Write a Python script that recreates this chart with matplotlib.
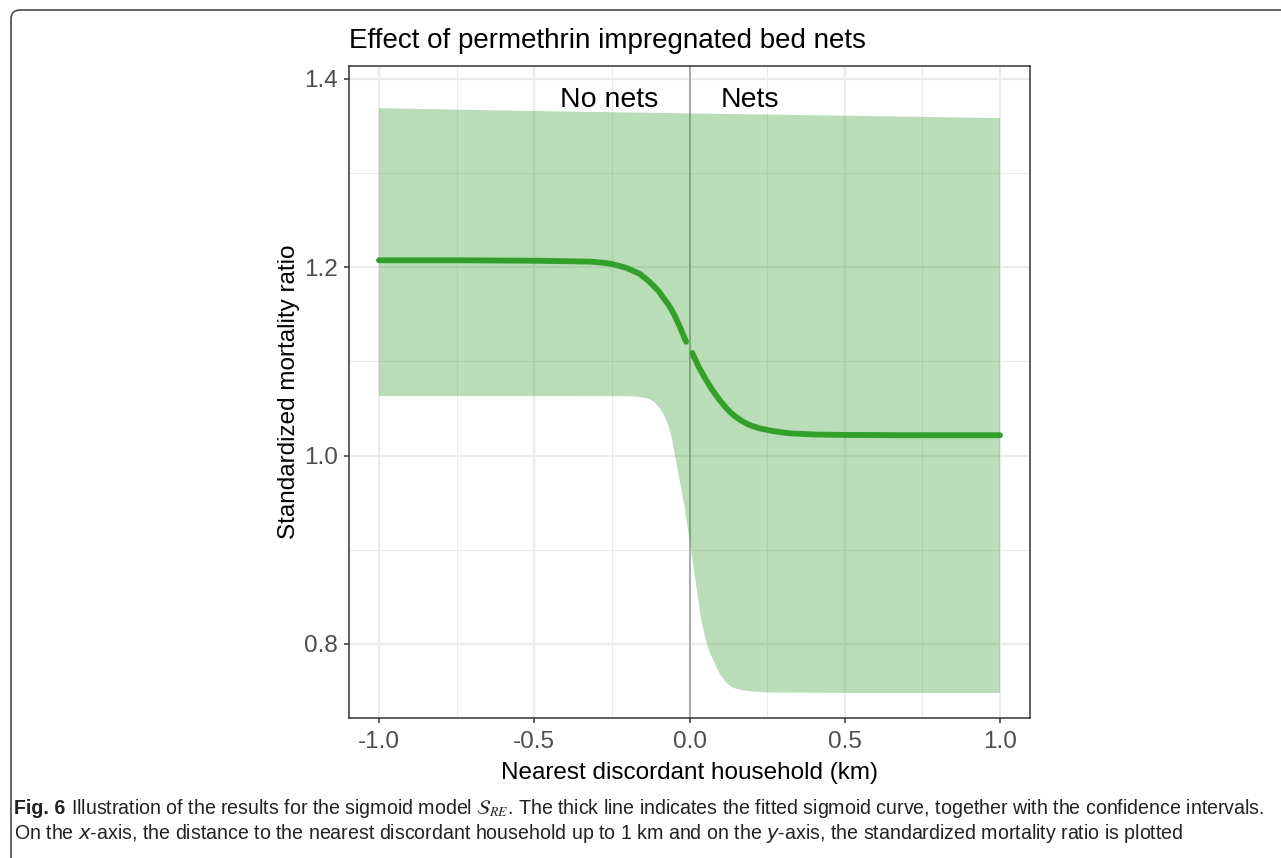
import numpy as np
import matplotlib
matplotlib.use("Agg")
import matplotlib.pyplot as plt
from matplotlib.patches import FancyBboxPatch
from matplotlib.transforms import IdentityTransform

# fitted sigmoid, drawn in two pieces (no nets / nets)
curve_left_x = [-1.0, -0.75, -0.5, -0.4, -0.32, -0.28, -0.25, -0.22, -0.2, -0.18,
                -0.16, -0.145, -0.13, -0.115, -0.1, -0.085, -0.065, -0.048, -0.03, -0.011]
curve_left_y = [1.2075, 1.2075, 1.207, 1.2065, 1.206, 1.205, 1.2035, 1.201, 1.199, 1.196,
                1.193, 1.189, 1.185, 1.180, 1.175, 1.168, 1.159, 1.149, 1.136, 1.121]
curve_right_x = [0.009, 0.03, 0.054, 0.075, 0.097, 0.12, 0.135, 0.15, 0.17, 0.19, 0.225,
                 0.27, 0.322, 0.4, 0.5, 0.7, 1.0]
curve_right_y = [1.109, 1.094, 1.080, 1.069, 1.059, 1.050, 1.045, 1.041, 1.0365, 1.033, 1.029,
                 1.026, 1.0237, 1.0225, 1.022, 1.0217, 1.0217]

# confidence band
band_lower_x = [-1.0, -0.5, -0.2, -0.17, -0.15, -0.13, -0.115, -0.1, -0.085, -0.075,
                -0.065, -0.056, -0.048, -0.032, -0.016, -0.005, 0.005, 0.022, 0.038,
                0.046, 0.053, 0.059, 0.065, 0.072, 0.079, 0.086, 0.1, 0.118, 0.135,
                0.15, 0.18, 0.25, 0.5, 1.0]
band_lower_y = [1.0633, 1.0633, 1.0632, 1.0627, 1.0618, 1.060, 1.0575, 1.052, 1.045, 1.038,
                1.029, 1.017, 1.0024, 0.974, 0.946, 0.921, 0.900, 0.861, 0.825,
                0.813, 0.804, 0.797, 0.791, 0.786, 0.781, 0.776, 0.767, 0.759, 0.7545,
                0.7525, 0.7503, 0.7485, 0.748, 0.748]
band_upper_x = [-1.0, -0.5, 0.0, 0.5, 1.0]
band_upper_y = [1.369, 1.366, 1.3635, 1.361, 1.3585]

x_ticks = [-1.0, -0.5, 0.0, 0.5, 1.0]
x_tick_labels = ['-1.0', '-0.5', '0.0', '0.5', '1.0']
y_ticks = [0.8, 1.0, 1.2, 1.4]
y_tick_labels = ['0.8', '1.0', '1.2', '1.4']

caption_1 = (r'Illustration of the results for the sigmoid model $\mathcal{S}_{RE}$. '
             'The thick line indicates the fitted sigmoid curve, together with the confidence intervals.')
caption_2 = (r'On the $x$-axis, the distance to the nearest discordant household up to 1 km '
             r'and on the $y$-axis, the standardized mortality ratio is plotted')

plt.rcParams['font.family'] = ['Liberation Sans', 'DejaVu Sans']
plt.rcParams['mathtext.rm'] = 'Liberation Sans Narrow'
plt.rcParams['mathtext.it'] = 'Liberation Sans Narrow:italic'
plt.rcParams['mathtext.bf'] = 'Liberation Sans Narrow:bold'

W, H = 1281, 858
green = '#33a02c'

fig = plt.figure(figsize=(W / 100, H / 100), dpi=100)
ax = fig.add_axes([349 / W, 1 - 718 / H, 681 / W, 652 / H])

band_x = np.concatenate([band_lower_x, band_upper_x[::-1]])
band_y = np.concatenate([band_lower_y, band_upper_y[::-1]])
ax.fill(band_x, band_y, color=green, alpha=0.34, lw=0, zorder=2)
ax.axvline(0, color='#999999', lw=1.1, zorder=1.5)
ax.plot(curve_left_x, curve_left_y, color=green, lw=4.2, solid_capstyle='round', zorder=3)
ax.plot(curve_right_x, curve_right_y, color=green, lw=4.2, solid_capstyle='round', zorder=3)

ax.text(-0.1, 1.3706, 'No nets', ha='right', va='baseline', fontsize=20.5)
ax.text(0.1, 1.3706, 'Nets', ha='left', va='baseline', fontsize=20.5)

ax.set_xlim(-1.0966, 1.0966)
ax.set_ylim(0.7214, 1.4138)
ax.set_xticks(x_ticks, x_tick_labels)
ax.set_yticks(y_ticks, y_tick_labels)
ax.set_xticks([-0.75, -0.25, 0.25, 0.75], minor=True)
ax.set_yticks([0.9, 1.1, 1.3], minor=True)
ax.set_axisbelow(True)
ax.grid(which='major', color='#EBEBEB', lw=1.6)
ax.grid(which='minor', color='#EBEBEB', lw=0.8)
ax.tick_params(which='minor', length=0)
ax.tick_params(which='major', length=3.6, width=1.1, color='#333333',
               labelcolor='#4D4D4D', labelsize=17.5)
ax.tick_params(axis='x', pad=6)
ax.tick_params(axis='y', pad=4.3)
for s in ax.spines.values():
    s.set_color('#333333')
    s.set_linewidth(1.1)

ax.set_xlabel('Nearest discordant household (km)', fontsize=17.5, labelpad=6)
ax.set_ylabel('Standardized mortality ratio', fontsize=17.5, labelpad=3)
ax.set_title('Effect of permethrin impregnated bed nets', loc='left', fontsize=20, pad=13)

# rounded frame around the figure (right and bottom run off the page)
frame = FancyBboxPatch((11, -60), 1400, H - 10 + 60, boxstyle='round,pad=0,rounding_size=9',
                       transform=IdentityTransform(), fill=False, ec='#4d4d4d', lw=1.2)
fig.add_artist(frame)

# caption
cap_font = ['Liberation Sans Narrow', 'Liberation Sans']
cap_size = 14.1
r = fig.canvas.get_renderer()
y1 = 1 - 814 / H
y2 = 1 - 839 / H
t = fig.text(14 / W, y1, 'Fig. 6', fontsize=cap_size, fontweight='bold', family=cap_font,
             color='#222222', va='baseline')
bb = t.get_window_extent(r)
a = fig.text(0, 0, 'a a', fontsize=cap_size, family=cap_font)
b = fig.text(0, 0, 'aa', fontsize=cap_size, family=cap_font)
sp = a.get_window_extent(r).width - b.get_window_extent(r).width
a.remove()
b.remove()
fig.text((bb.x1 + sp) / W, y1, caption_1, fontsize=cap_size, family=cap_font,
         math_fontfamily='stix', color='#222222', va='baseline')
fig.text(14 / W, y2, caption_2, fontsize=cap_size, family=cap_font,
         math_fontfamily='custom', color='#222222', va='baseline')

fig.savefig('out.png', dpi=100)
